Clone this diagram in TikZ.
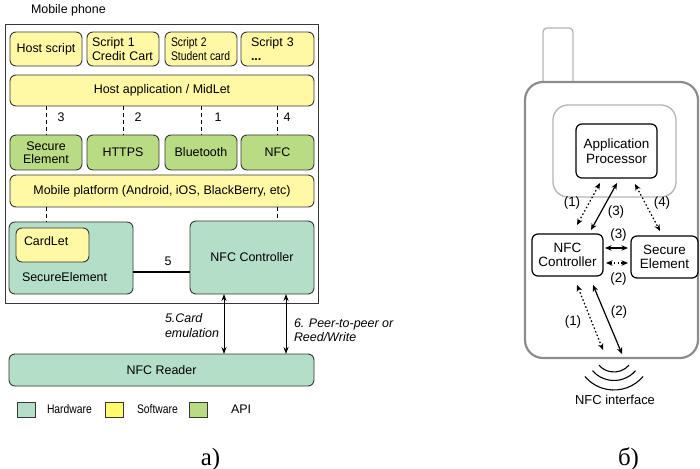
\documentclass[tikz,border=0pt]{standalone}
\usepackage{fontspec}
\usepackage{graphicx}
\setmainfont{Liberation Sans}
\newfontfamily\captionserif{Liberation Serif}
\usetikzlibrary{arrows.meta,calc}

\definecolor{swfill}{RGB}{255,249,165}
\definecolor{swlegend}{RGB}{255,250,110}
\definecolor{apifill}{RGB}{185,219,132}
\definecolor{hwfill}{RGB}{181,222,200}
\definecolor{edge}{RGB}{55,55,55}
\definecolor{bodygray}{RGB}{140,140,140}
\definecolor{innergray}{RGB}{180,180,180}

% horizontally condensed text
\newcommand{\narrowtext}[1]{\scalebox{0.83}[1]{#1}}

\begin{document}
\begin{tikzpicture}[x=1bp,y=-1bp,
  every node/.style={inner sep=0pt, outer sep=0pt},
  sz/.style 2 args={minimum width=#1bp, minimum height=#2bp},
  lfont/.style={font=\fontsize{12.5}{13.5}\selectfont},
  rfont/.style={font=\fontsize{13.5}{14.5}\selectfont},
  lbox/.style={draw=edge, line width=0.9bp, rounded corners=6bp, lfont, align=center},
  sw/.style={lbox, fill=swfill},
  api/.style={lbox, fill=apifill},
  hw/.style={lbox, fill=hwfill},
  legendsq/.style={draw=edge, line width=0.9bp, sz={18}{15}},
  dashline/.style={draw=black, line width=0.9bp, dash pattern=on 4bp off 3bp},
  larrow/.style={draw=black, line width=0.9bp, {Stealth[length=7bp,width=5bp]}-{Stealth[length=7bp,width=5bp]}},
  rbox/.style={draw=black, line width=1.2bp, rounded corners=6bp, rfont, align=center},
  rarrow/.style={draw=black, line width=1.2bp, {Stealth[length=6.5bp,width=5.5bp]}-{Stealth[length=6.5bp,width=5.5bp]}},
  rdots/.style={rarrow, dash pattern=on 1.6bp off 2.2bp},
  rlabel/.style={rfont},
  wave/.style={draw=black, line width=1.1bp},
]
\useasboundingbox (0,0) rectangle (700,469);

% ---------------- a) software / hardware stack ----------------
\node[lfont, anchor=west] (title) at (31,10) {Mobile phone};
\node[draw=edge, line width=0.9bp, sz={313}{279}] (frame) at (161.5,163.5) {};

% scripts
\node[sw, sz={72}{34}] (hs) at (46,49) {Host script};
\node[sw, sz={72}{34}, text width=62bp, align=left] (s1) at (123,49) {Script 1\\Credit Cart};
\node[sw, sz={72}{34}, text width=60bp, align=left] (s2) at (201,49) {\narrowtext{Script 2}\\\narrowtext{Student card}};
\node[sw, sz={73}{34}, text width=53bp, align=left] (s3) at (277.5,49) {Script 3\\\textbf{...}};

\node[sw, sz={304}{31}] (happ) at (162,90.5) {Host application / MidLet};

% API layer
\node[api, sz={72}{35}] (seapi) at (46,152.5) {Secure\\Element};
\node[api, sz={72}{35}] (https) at (123,152.5) {HTTPS};
\node[api, sz={72}{35}] (bt) at (201,152.5) {Bluetooth};
\node[api, sz={73}{35}] (nfcapi) at (277.5,152.5) {NFC};

\draw[dashline] (happ.south -| seapi) -- (seapi.north);
\draw[dashline] (happ.south -| https) -- (https.north);
\draw[dashline] (happ.south -| bt) -- (bt.north);
\draw[dashline] (happ.south -| nfcapi) -- (nfcapi.north);
\node[lfont] (n3) at (61,117.5) {3};
\node[lfont] (n2) at (138,117.5) {2};
\node[lfont] (n1) at (218,117.5) {1};
\node[lfont] (n4) at (287,117.5) {4};

\node[sw, sz={304}{32}] (plat) at (162,191) {Mobile platform (Android, iOS, BlackBerry, etc)};

% hardware
\node[hw, sz={124}{72}] (sehw) at (71,258) {};
\node[sw, sz={73}{34}] (cardlet) at (52.5,245) {};
\node[lfont, anchor=west] (cardlettext) at (24,241) {CardLet};
\node[lfont, anchor=west] (setext) at (22,277) {SecureElement};
\node[hw, sz={124}{73}] (nfcc) at (252,257.5) {NFC Controller};

\draw[dashline] (plat.south -| seapi) -- (sehw.north -| seapi);
\draw[dashline] (plat.south -| nfcapi) -- (nfcc.north -| nfcapi);

\coordinate (l5) at (0,272);
\draw[black, line width=1.6bp] (sehw.east |- l5) -- (nfcc.west |- l5);
\node[lfont] (n5) at (168,261.5) {5};

\node[hw, sz={305}{32}] (reader) at (161.5,370) {NFC Reader};

\coordinate (ce) at (224,0);
\coordinate (pp) at (286,0);
\draw[larrow] (nfcc.south -| ce) -- (reader.north -| ce);
\draw[larrow] (nfcc.south -| pp) -- (reader.north -| pp);
\node[anchor=west, align=left, font=\itshape\fontsize{12.5}{14.5}\selectfont] (cardemu) at (165,325.5) {5.Card\\emulation};
\node[anchor=west, align=left, font=\itshape\fontsize{12.5}{14.5}\selectfont] (p2p) at (294,330) {6. Peer-to-peer or\\Reed/Write};

% legend
\node[legendsq, fill=hwfill] (lhw) at (26,409.5) {};
\node[anchor=west, lfont] (lhwt) at (47,409) {\narrowtext{Hardware}};
\node[legendsq, fill=swlegend] (lsw) at (114.5,409.5) {};
\node[anchor=west, lfont] (lswt) at (137,409) {\narrowtext{Software}};
\node[legendsq, fill=apifill] (lapi) at (198.5,409.5) {};
\node[anchor=west, lfont] (lapit) at (231,409) {API};

\node[anchor=base, font=\captionserif\fontsize{25}{28}\selectfont] (capa) at (210.5,465) {а)};

% ---------------- b) phone with NFC paths ----------------
\draw[innergray, line width=1.3bp, rounded corners=4bp] (543,82) -- (543,28) -- (573,28) -- (573,82);
\draw[bodygray, line width=2.2bp, rounded corners=18bp] (525,82) rectangle (698,358);
\draw[innergray, line width=1.3bp, rounded corners=15bp] (553,105) rectangle (676,197);

\node[rbox, sz={81}{54}, fill=white] (app) at (616.5,151) {Application\\Processor};
\node[rbox, sz={71}{42}, fill=white] (nfc2) at (567.5,255) {NFC\\Controller};
\node[rbox, sz={67}{42}, fill=white] (sec) at (664.5,257) {Secure\\Element};

\draw[rdots] ($(nfc2.north)+(9.5,-9)$) -- ($(app.south)+(-16.5,5)$);
\draw[rarrow] ($(nfc2.north)+(23.5,-4)$) -- ($(app.south)+(0.5,5)$);
\draw[rdots] ($(app.south)+(18.5,6)$) -- ($(sec.north)+(-4.5,-5)$);
\draw[rarrow] ($(nfc2.east)+(2,-7)$) -- ($(sec.west)+(-3,-9)$);
\draw[rdots] ($(nfc2.east)+(3,8)$) -- ($(sec.west)+(-3,6)$);

\coordinate (fielddot) at (603,350);
\coordinate (fieldsolid) at (622,354);
\draw[rdots] ($(nfc2.south)+(9.5,9)$) -- (fielddot);
\draw[rarrow] ($(nfc2.south)+(25.5,9)$) -- (fieldsolid);

\node[rlabel] (r1a) at (572,203) {(1)};
\node[rlabel] (r3a) at (616,212) {(3)};
\node[rlabel] (r4) at (662,203) {(4)};
\node[rlabel] (r3b) at (618.5,235) {(3)};
\node[rlabel] (r2b) at (618.5,279) {(2)};
\node[rlabel] (r1b) at (573,322) {(1)};
\node[rlabel] (r2a) at (619,312) {(2)};

% radiating field of the NFC antenna: concentric arcs
\coordinate (fieldc) at (614,352);
\draw[wave] (fieldc) ++(41:20) arc[start angle=41, end angle=139, radius=20];
\draw[wave] (fieldc) ++(41:28.5) arc[start angle=41, end angle=139, radius=28.5];
\draw[wave] (fieldc) ++(40:38) arc[start angle=40, end angle=140, radius=38];
\node[font=\fontsize{13}{14}\selectfont] (nfcif) at (615,399.5) {NFC interface};

\node[anchor=base, font=\captionserif\fontsize{25}{28}\selectfont] (capb) at (628.5,465) {б)};
\end{tikzpicture}
\end{document}
